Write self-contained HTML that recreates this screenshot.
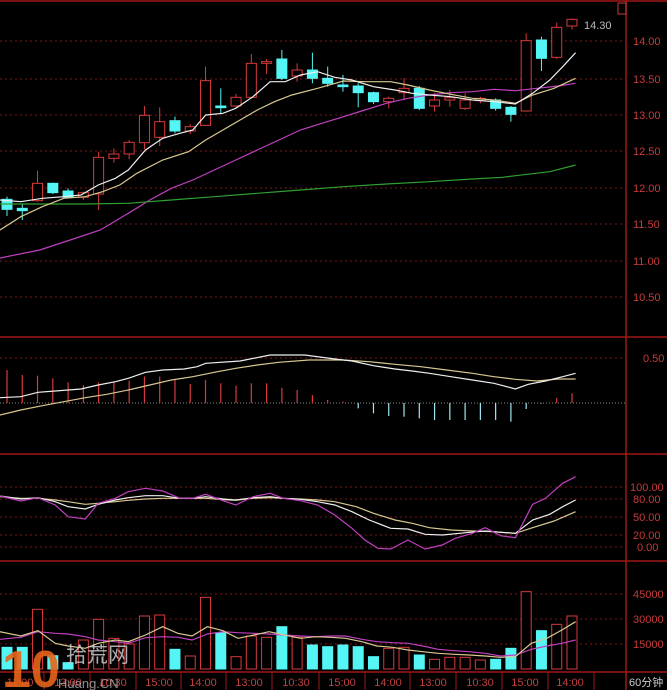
<!DOCTYPE html>
<html><head><meta charset="utf-8"><style>
html,body{margin:0;padding:0;background:#000;width:667px;height:690px;overflow:hidden}
svg{display:block}
text{font-family:"Liberation Sans","Noto Sans CJK SC",sans-serif}
</style></head><body>
<svg id="s" width="667" height="690" xmlns="http://www.w3.org/2000/svg">
<rect width="667" height="690" fill="#000"/>
<g stroke="#7a1a1a" stroke-dasharray="2,3" stroke-width="1">
<line x1="0" x2="626" y1="41" y2="41"/><line x1="0" x2="626" y1="79" y2="79"/><line x1="0" x2="626" y1="115" y2="115"/><line x1="0" x2="626" y1="151" y2="151"/><line x1="0" x2="626" y1="188" y2="188"/><line x1="0" x2="626" y1="224" y2="224"/><line x1="0" x2="626" y1="261" y2="261"/><line x1="0" x2="626" y1="297" y2="297"/>
<line x1="0" x2="626" y1="358" y2="358"/>
<line x1="0" x2="626" y1="487" y2="487"/><line x1="0" x2="626" y1="499" y2="499"/><line x1="0" x2="626" y1="517" y2="517"/><line x1="0" x2="626" y1="535" y2="535"/><line x1="0" x2="626" y1="547" y2="547"/>
<line x1="0" x2="626" y1="594" y2="594"/><line x1="0" x2="626" y1="619" y2="619"/><line x1="0" x2="626" y1="644" y2="644"/>
</g>
<line x1="0" x2="626" y1="403" y2="403" stroke="#888" stroke-dasharray="1,2"/>
<g stroke="#a01818" stroke-width="1.5">
<line x1="0" x2="667" y1="1" y2="1"/>
<line x1="0" x2="667" y1="337" y2="337"/><line x1="0" x2="667" y1="454" y2="454"/><line x1="0" x2="667" y1="561" y2="561"/><line x1="0" x2="667" y1="672" y2="672"/>
<line x1="626" x2="626" y1="0" y2="690"/>
</g>
<g fill="#c83a3a" font-size="11">
<text x="633" y="45">14.00</text><text x="633" y="83">13.50</text><text x="633" y="119">13.00</text><text x="633" y="155">12.50</text><text x="633" y="192">12.00</text><text x="633" y="228">11.50</text><text x="633" y="265">11.00</text><text x="633" y="301">10.50</text>
<text x="643" y="362">0.50</text>
<text x="630" y="491">100.00</text><text x="633" y="503">80.00</text><text x="633" y="521">50.00</text><text x="633" y="539">20.00</text><text x="637" y="551">0.00</text>
<text x="633" y="598">45000</text><text x="633" y="623">30000</text><text x="633" y="648">15000</text>
</g>
<rect x="618" y="3" width="8" height="11" fill="none" stroke="#c83a3a"/>
<text x="584" y="29" fill="#bbb" font-size="11">14.30</text>
<g id="g"></g>
<g fill="#c04040" font-size="11">
<text x="20" y="686" text-anchor="middle">11:00</text><text x="68" y="686" text-anchor="middle">13:00</text><text x="113" y="686" text-anchor="middle">10:30</text><text x="159" y="686" text-anchor="middle">15:00</text><text x="203" y="686" text-anchor="middle">14:00</text><text x="249" y="686" text-anchor="middle">13:00</text><text x="296" y="686" text-anchor="middle">10:30</text><text x="342" y="686" text-anchor="middle">15:00</text><text x="388" y="686" text-anchor="middle">14:00</text><text x="433" y="686" text-anchor="middle">13:00</text><text x="480" y="686" text-anchor="middle">10:30</text><text x="525" y="686" text-anchor="middle">15:00</text><text x="570" y="686" text-anchor="middle">14:00</text>
<text x="629" y="686" fill="#ccc">60分钟</text>
</g>
<g stroke="#a01818"><line x1="44" x2="44" y1="672" y2="690"/><line x1="90" x2="90" y1="672" y2="690"/><line x1="136" x2="136" y1="672" y2="690"/><line x1="181" x2="181" y1="672" y2="690"/><line x1="226" x2="226" y1="672" y2="690"/><line x1="272" x2="272" y1="672" y2="690"/><line x1="319" x2="319" y1="672" y2="690"/><line x1="365" x2="365" y1="672" y2="690"/><line x1="410" x2="410" y1="672" y2="690"/><line x1="456" x2="456" y1="672" y2="690"/><line x1="502" x2="502" y1="672" y2="690"/><line x1="548" x2="548" y1="672" y2="690"/><line x1="594" x2="594" y1="672" y2="690"/></g>
<text x="2" y="687" fill="#e8641a" font-size="52" font-weight="bold" opacity="0.9">10</text>
<text x="66" y="662" fill="#ccc" font-size="21" opacity="0.85">拾荒网</text>
<text x="58" y="688" fill="#aaa" font-size="13" opacity="0.85">Huang.CN</text>
</svg>
<script>
var g=document.getElementById('g'),NS='http://www.w3.org/2000/svg';
function el(t,a){var e=document.createElementNS(NS,t);for(var k in a)e.setAttribute(k,a[k]);g.appendChild(e);return e;}
function ZX(z){return 7+(z-18)/35.5*15.27;}
function X(i){return 7+i*15.27;}
function line(pts,off,col,w){var d=pts.map(function(p,i){return (i?'L':'M')+Math.max(0,ZX(p[0])).toFixed(1)+','+(p[1]/3+off).toFixed(1)}).join('');el('path',{d:d,fill:'none',stroke:col,'stroke-width':w||1.2});}
var RED='#d83a3a',CY='#55f5f5';
var C=[[598,628,590,648,0],[625,632,610,660,0],[550,602,512,605,1],[550,578,548,582,0],[573,592,565,595,0],[578,592,575,600,1],[472,582,455,630,1],[462,475,445,488,1],[427,462,420,478,1],[346,428,318,448,1],[365,412,322,438,1],[362,393,350,400,0],[380,393,372,402,1],[242,376,200,378,1],[318,323,265,340,0],[292,318,282,322,1],[190,292,162,296,1],[185,190,177,222,1],[177,235,150,240,0],[210,228,190,245,1],[210,235,158,250,0],[235,250,200,260,0],[255,260,225,275,0],[258,278,250,322,0],[278,305,275,312,0],[295,305,290,325,1],[265,278,235,300,1],[265,325,258,330,0],[300,318,278,335,1],[293,300,270,320,1],[300,325,280,330,1],[295,302,290,310,1],[300,325,295,332,0],[322,343,318,365,0],[122,333,100,335,1],[120,175,110,213,0],[82,172,68,177,1],[58,78,55,88,1]];
C.forEach(function(c,i){var x=X(i),col=c[4]?RED:CY;
el('line',{x1:x,x2:x,y1:c[2]/3,y2:c[3]/3,stroke:col,'stroke-width':1});
el('rect',{x:x-5,y:c[0]/3,width:10,height:Math.max(1,(c[1]-c[0])/3),fill:c[4]?'#000':CY,stroke:col,'stroke-width':1});});
line([[0,774],[94,750],[165,720],[235,690],[300,640],[350,600],[400,565],[450,540],[500,510],[550,480],[600,450],[650,420],[700,390],[750,370],[800,350],[850,330],[900,310],[950,295],[1000,285],[1050,278],[1100,275],[1150,268],[1200,272],[1250,265],[1300,258],[1340,250]],0,'#c040c0');
line([[0,612],[200,612],[300,610],[400,600],[500,590],[600,580],[700,570],[800,560],[900,552],[1000,545],[1100,537],[1170,532],[1200,527],[1280,515],[1340,495]],0,'#30a030');
line([[0,690],[50,650],[100,620],[150,595],[200,590],[240,575],[280,555],[320,520],[380,480],[440,455],[480,420],[520,390],[560,360],[600,330],[640,305],[680,285],[740,265],[800,243],[850,245],[910,245],[950,255],[1000,270],[1050,283],[1100,295],[1150,300],[1200,310],[1240,285],[1290,265],[1340,235]],0,'#d8c890');
line([[0,600],[50,605],[100,595],[150,590],[190,585],[230,555],[270,535],[300,510],[340,450],[380,415],[420,400],[450,390],[480,345],[520,340],[550,325],[590,290],[630,245],[665,245],[700,225],[740,215],[780,232],[820,240],[870,260],[920,270],[960,280],[1000,285],[1050,290],[1100,300],[1150,305],[1200,312],[1240,280],[1280,240],[1310,200],[1340,158]],0,'#eee');
var H=[105,120,122,130,142,150,142,140,137,125,125,135,147,135,145,152,145,145,158,165,180,195,200,220,235,243,245,250,255,255,255,255,255,260,222,207,188,175];
H.forEach(function(h,i){var x=X(i);el('line',{x1:x,x2:x,y1:403,y2:h/3+335,stroke:(i<23||i>34)?RED:'#a0e8f0','stroke-width':1.2});});
line([[0,240],[50,225],[100,212],[150,200],[200,188],[250,178],[300,165],[350,150],[400,135],[450,125],[500,112],[550,100],[600,90],[650,82],[720,75],[800,75],[860,80],[920,88],[980,95],[1040,105],[1100,115],[1150,125],[1200,133],[1250,138],[1300,132],[1340,132]],335,'#d8c890');
line([[0,188],[50,185],[90,172],[130,168],[190,162],[230,150],[270,140],[300,130],[340,112],[380,105],[430,102],[460,95],[480,85],[560,78],[630,60],[710,60],[780,72],[820,78],[870,92],[920,102],[960,108],[1000,115],[1050,125],[1100,135],[1150,145],[1200,162],[1230,148],[1270,138],[1310,125],[1340,115]],335,'#eee');
line([[0,485],[50,490],[90,490],[130,495],[160,500],[200,508],[230,505],[270,500],[300,496],[340,492],[380,490],[420,490],[450,490],[480,490],[520,494],[550,496],[590,490],[630,488],[660,490],[700,492],[740,495],[780,500],[830,515],[870,535],[920,555],[960,565],[1000,578],[1050,585],[1100,588],[1150,590],[1200,595],[1240,578],[1290,558],[1340,530]],335,'#d8c890');
line([[0,483],[50,492],[90,488],[130,500],[160,515],[200,522],[230,508],[270,495],[300,488],[340,482],[380,482],[420,490],[450,490],[480,485],[520,492],[550,495],[590,488],[630,485],[660,490],[700,493],[740,500],[780,510],[820,530],[860,555],[910,580],[950,582],[990,598],[1030,600],[1070,595],[1110,590],[1130,588],[1165,592],[1200,595],[1240,555],[1280,538],[1310,515],[1340,495]],335,'#eee');
line([[0,483],[50,498],[90,488],[130,510],[160,545],[200,552],[230,505],[270,490],[300,470],[340,460],[380,468],[420,490],[450,490],[480,478],[520,497],[550,510],[590,485],[630,475],[660,490],[700,497],[740,510],[780,540],[820,580],[850,615],[880,640],[910,642],[950,615],[990,642],[1030,630],[1060,610],[1100,595],[1130,578],[1165,602],[1200,608],[1240,508],[1270,490],[1310,445],[1340,425]],335,'#c040c0');
var V=[[262,0],[262,0],[148,1],[287,0],[308,0],[240,1],[178,1],[235,1],[252,1],[168,1],[165,1],[268,0],[288,1],[112,1],[218,0],[290,1],[228,1],[232,1],[200,0],[232,1],[255,0],[260,0],[255,0],[260,0],[290,0],[265,1],[262,1],[285,0],[298,1],[292,1],[292,1],[300,1],[298,0],[265,0],[95,1],[212,0],[193,1],[168,1]];
V.forEach(function(v,i){var x=X(i),t=v[0]/3+560;el('rect',{x:x-5,y:t,width:10,height:669-t,fill:v[1]?'#000':CY,stroke:v[1]?RED:CY,'stroke-width':1});});
line([[0,238],[50,232],[90,215],[130,220],[160,222],[200,230],[230,240],[270,245],[300,250],[340,233],[380,230],[415,232],[448,240],[484,222],[520,215],[555,218],[592,220],[627,222],[663,225],[700,228],[735,230],[770,228],[805,228],[843,238],[878,245],[915,248],[950,250],[985,258],[1020,268],[1058,272],[1093,275],[1130,280],[1165,288],[1200,285],[1237,268],[1273,258],[1308,250],[1340,240]],560,'#c040c0');
line([[0,215],[50,228],[90,212],[130,250],[160,258],[200,265],[230,250],[270,240],[300,245],[340,225],[380,200],[415,220],[448,228],[484,200],[520,212],[555,235],[592,225],[627,215],[663,225],[700,235],[735,230],[770,232],[805,235],[843,245],[878,258],[915,262],[950,270],[985,275],[1020,280],[1058,283],[1093,285],[1130,288],[1165,292],[1200,290],[1237,250],[1273,235],[1308,210],[1340,185]],560,'#d8c890');
</script>
</body></html>
